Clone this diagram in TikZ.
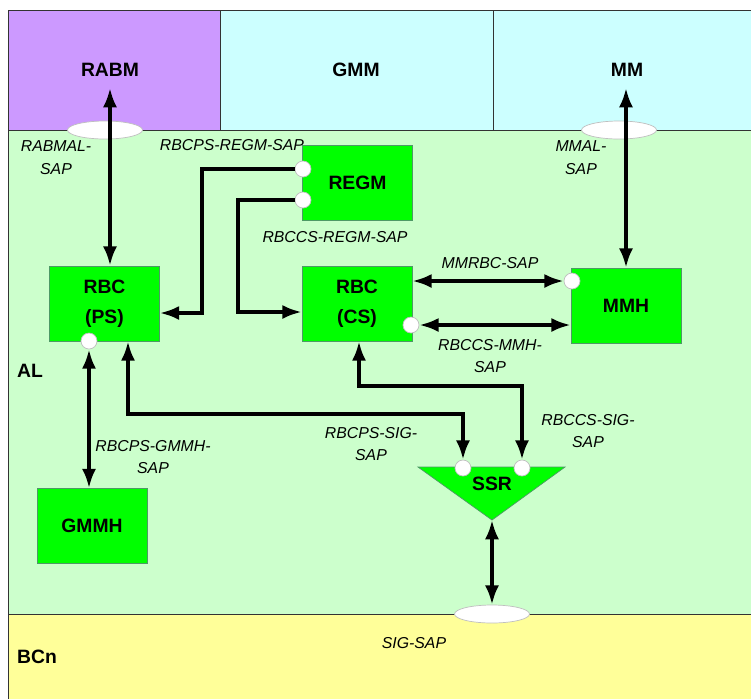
\documentclass[tikz,border=0pt]{standalone}
\usepackage{fontspec}
\setmainfont{Liberation Sans}
\usetikzlibrary{arrows.meta,positioning,shapes.geometric}
\definecolor{rabmpurple}{HTML}{CC99FF}
\definecolor{gmmcyan}{HTML}{CCFFFF}
\definecolor{algreen}{HTML}{CCFFCC}
\definecolor{bcnyellow}{HTML}{FFFF99}
\definecolor{entgreen}{HTML}{00FF00}
\definecolor{entedge}{HTML}{4D9966}
\definecolor{frameline}{HTML}{333333}

\begin{document}
\begin{tikzpicture}[x=0.02cm,y=-0.02cm,>=Latex]
\tikzset{
  layer/.style={font=\bfseries\fontsize{11}{13}\selectfont,inner sep=1pt},
  ent/.style={draw=entedge,fill=entgreen,minimum width=2.2cm,minimum height=1.5cm,align=center,font=\bfseries\fontsize{11}{17}\selectfont,inner sep=0pt},
  sap/.style={ellipse,draw=black!25,fill=white,minimum width=1.5cm,minimum height=0.36cm,inner sep=0pt},
  port/.style={circle,draw=black!25,fill=white,minimum size=0.32cm,inner sep=0pt},
  lbl/.style={font=\itshape\fontsize{9}{13}\selectfont,align=center,inner sep=0pt},
  dbl/.style={{Latex[length=11pt,width=8pt]}-{Latex[length=11pt,width=8pt]},line width=2pt},
  sgl/.style={-{Latex[length=11pt,width=8pt]},line width=2pt}
}
\useasboundingbox (0,0) rectangle (751,698);
% layers
\filldraw[fill=rabmpurple,draw=frameline] (8,10) rectangle (220,130);
\filldraw[fill=gmmcyan,draw=frameline] (220,10) rectangle (493,130);
\filldraw[fill=gmmcyan,draw=frameline] (493,10) rectangle (760,130);
\filldraw[fill=algreen,draw=frameline] (8,130) rectangle (760,614);
\filldraw[fill=bcnyellow,draw=frameline] (8,614) rectangle (760,710);
\node[layer] (rabm) at (110,70) {RABM};
\node[layer] (gmm) at (356,70) {GMM};
\node[layer] (mm) at (627,70) {MM};
\node[layer] (al) at (30,371) {AL};
\node[layer] (bcn) at (37,657) {BCn};
% saps
\node[sap] (rabmsap) at (105,130) {};
\node[sap] (mmsap) at (619,130) {};
\node[sap] (sigsap) at (492,614) {};
% entities
\node[ent] (regm) at (357.5,182.5) {REGM};
\node[ent] (ps) at (104.5,303.5) {RBC\\(PS)};
\node[ent] (cs) at (357,303.5) {RBC\\(CS)};
\node[ent] (mmh) at (626,305.5) {MMH};
\node[ent] (gmmh) at (92,526) {GMMH};
\filldraw[draw=entedge,fill=entgreen] (418,467) -- (565,467) -- (492,520) -- cycle;
\node[font=\bfseries\fontsize{11}{13}\selectfont] (ssr) at (492,484) {SSR};
\coordinate (ssrtip) at (492,520);
% ports
\node[port] (rp1) at (303,169) {};
\node[port] (rp2) at (303,200) {};
\node[port] (psp) at (89,341) {};
\node[port] (csp) at (411,325) {};
\node[port] (mmhp) at (572,281) {};
\node[port] (ssrp1) at (463,468) {};
\node[port] (ssrp2) at (522,468) {};
% bends
\coordinate (rabmend) at (110,88);
\coordinate (mmend) at (626,88);
\coordinate (k1) at (202,313);
\coordinate (k2) at (238,312);
\coordinate (k3) at (128,414);
\coordinate (k4) at (359,386);
% connectors
\draw[dbl] (rabmend) -- (ps.north -| rabmend);
\draw[dbl] (mmend) -- (mmh.north);
\draw[sgl] (rp1.west) -| (k1) -- (k1 -| ps.east);
\draw[sgl] (rp2.west) -| (k2) -- (k2 -| cs.west);
\draw[dbl] (cs.east |- mmhp) -- (mmhp.west);
\draw[dbl] (csp.east) -- (csp -| mmh.west);
\draw[dbl] (psp.south) -- (gmmh.north -| psp);
\draw[dbl] (ps.south -| k3) -- (k3) -| (ssrp1.north);
\draw[dbl] (cs.south -| k4) -- (k4) -| (ssrp2.north);
\draw[dbl] (ssrtip) -- (sigsap.north);
% labels
\node[lbl] (l1) at (56,158) {RABMAL-\\SAP};
\node[lbl] (l2) at (232,145) {RBCPS-REGM-SAP};
\node[lbl] (l3) at (335,237) {RBCCS-REGM-SAP};
\node[lbl] (l4) at (581,158) {MMAL-\\SAP};
\node[lbl] (l5) at (490,263) {MMRBC-SAP};
\node[lbl] (l6) at (490,356) {RBCCS-MMH-\\SAP};
\node[lbl] (l7) at (153,457) {RBCPS-GMMH-\\SAP};
\node[lbl] (l8) at (371,444) {RBCPS-SIG-\\SAP};
\node[lbl] (l9) at (588,431) {RBCCS-SIG-\\SAP};
\node[lbl] (l10) at (414,643) {SIG-SAP};
\end{tikzpicture}
\end{document}
